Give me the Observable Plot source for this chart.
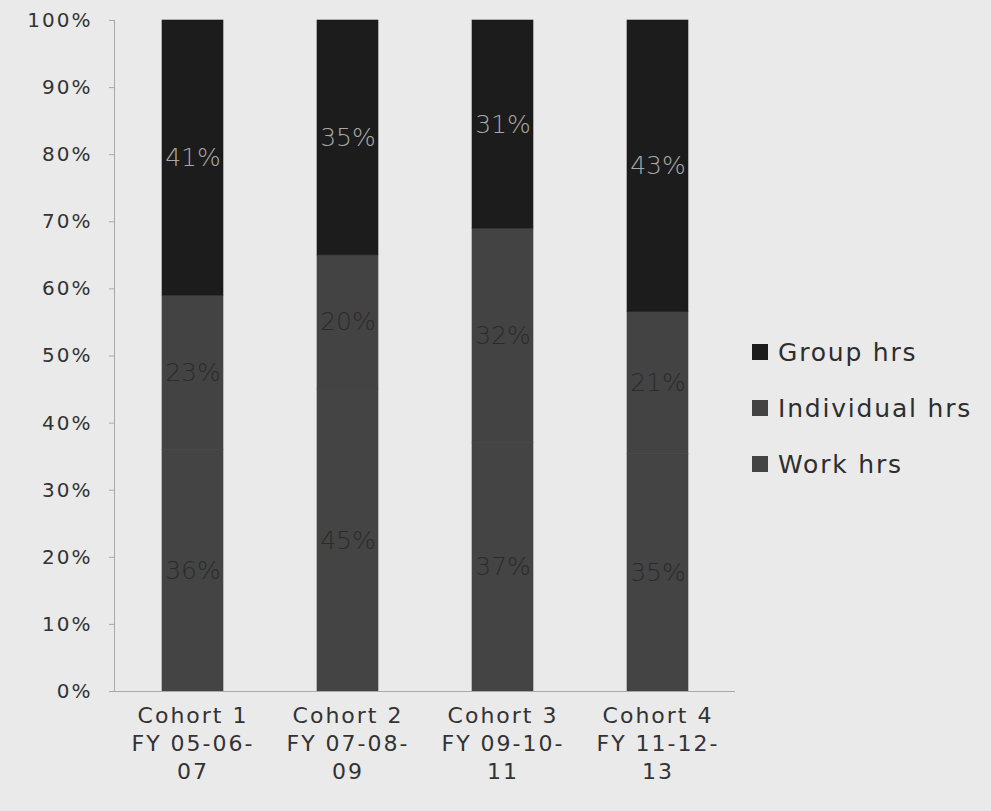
<!DOCTYPE html>
<html>
<head>
<meta charset="utf-8">
<script src="https://cdn.jsdelivr.net/npm/d3@7"></script>
<script src="https://cdn.jsdelivr.net/npm/@observablehq/plot@0.6"></script>
<style>
  html, body { margin: 0; padding: 0; background: #eaeaea; }
  #wrap { position: relative; width: 991px; height: 811px; overflow: hidden; font-family: "DejaVu Sans", sans-serif; }
  #legend { position: absolute; left: 752px; top: 324px; color: #2e2e2e; font-size: 25px; letter-spacing: 1.8px; }
  .item { display: flex; align-items: center; height: 56px; }
  .sw { width: 16px; height: 16px; margin-right: 10px; flex: none; }
  svg [aria-label="y-axis tick label"] text { letter-spacing: 2px; }
  svg [aria-label="x-axis tick label"] text { letter-spacing: 2px; }
</style>
</head>
<body>
<div id="wrap"></div>
<script>
const cohorts = ["Cohort 1\nFY 05-06-\n07", "Cohort 2\nFY 07-08-\n09", "Cohort 3\nFY 09-10-\n11", "Cohort 4\nFY 11-12-\n13"];
const series = ["Work hrs", "Individual hrs", "Group hrs"];
const workHrs = [36, 45, 37, 35];
const individualHrs = [23, 20, 32, 21];
const groupHrs = [41, 35, 31, 43];
const colors = ["#444444", "#434343", "#1c1c1c"];
const labelColors = ["#2b2b2b", "#2b2b2b", "#a8a8a8"];
const yTicks = [0, 0.1, 0.2, 0.3, 0.4, 0.5, 0.6, 0.7, 0.8, 0.9, 1];

const valuesBySeries = [workHrs, individualHrs, groupHrs];
const data = [];
series.forEach((s, i) => cohorts.forEach((c, j) => data.push({cohort: c, series: s, value: valuesBySeries[i][j], lc: labelColors[i]})));

const chart = Plot.plot({
  width: 745,
  height: 811,
  marginTop: 20,
  marginBottom: 120,
  marginLeft: 114,
  marginRight: 10,
  style: {background: "transparent", fontFamily: "'DejaVu Sans', sans-serif", color: "#333"},
  x: {domain: cohorts, paddingInner: 0.607, paddingOuter: 0.3035, label: null},
  y: {domain: [0, 1], label: null},
  color: {domain: series, range: colors},
  marks: [
    Plot.barY(data, Plot.stackY({offset: "normalize", order: null}, {x: "cohort", y: "value", z: "series", fill: "series", stroke: "series", strokeWidth: 0.6})),
    Plot.text(data, Plot.stackY({offset: "normalize", order: null}, {x: "cohort", y: "value", z: "series", text: d => d.value + "%", fill: "lc", fontSize: 25, fontWeight: 200})),
    Plot.ruleY([0], {stroke: "#a8a8a8"}),
    Plot.frame({anchor: "left", stroke: "#a8a8a8"}),
    Plot.axisY({ticks: yTicks, tickFormat: d => Math.round(d * 100) + "%", tickSize: 5, tickPadding: 17, fontSize: 20, stroke: "#a8a8a8", fill: "#333"}),
    Plot.axisX({tickSize: 0, tickPadding: 12, fontSize: 22, lineHeight: 1.27, fill: "#333"})
  ]
});
chart.style.position = "absolute";
chart.style.left = "0px";
chart.style.top = "0px";
const wrap = document.getElementById("wrap");
wrap.appendChild(chart);

const legend = document.createElement("div");
legend.id = "legend";
[...series].reverse().forEach((s) => {
  const i = series.indexOf(s);
  const row = document.createElement("div");
  row.className = "item";
  const sw = document.createElement("span");
  sw.className = "sw";
  sw.style.background = colors[i];
  const t = document.createElement("span");
  t.textContent = s;
  row.appendChild(sw);
  row.appendChild(t);
  legend.appendChild(row);
});
wrap.appendChild(legend);
</script>
</body>
</html>
